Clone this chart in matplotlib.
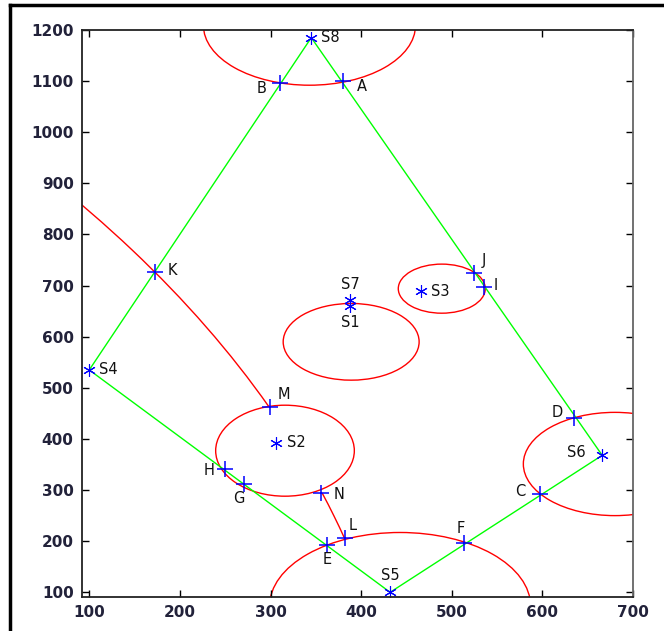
import numpy as np
import matplotlib
matplotlib.use('Agg')
import matplotlib.pyplot as plt
from matplotlib.patches import Circle, Ellipse, Arc
from matplotlib.lines import Line2D

# anchor (S) nodes, green hull goes S8 -> S6 -> S5 -> S4 -> S8
s_names = ['S1', 'S2', 'S3', 'S4', 'S5', 'S6', 'S7', 'S8']
s_x = [388, 306, 466, 100, 432, 666, 388, 345]
s_y = [661, 393, 689, 535, 100, 368, 672, 1185]
hull_order = ['S8', 'S6', 'S5', 'S4', 'S8']

# intersection points
p_names = ['A', 'B', 'C', 'D', 'E', 'F', 'G', 'H', 'I', 'J', 'K', 'L', 'M', 'N']
p_x = [380, 311, 597, 635, 362, 514, 271, 250, 536, 525, 173, 382, 299, 356]
p_y = [1100, 1096, 292, 441, 193, 196, 312, 341, 697, 724, 726, 206, 462, 294]

# range circles: centre x, centre y, radius
circ_cx = [343, 389, 489, 680, 443]
circ_cy = [1209, 590, 694, 351, 73]
circ_r = [117, 75, 48, 101, 144]
# the one around S2 is an ellipse
ell_c = (316, 377)
ell_w, ell_h = 153, 178
# big arc through K, M and N, L
big_c = (-1684, -322)
big_r = 2132
big_arcs = [(21.6, 40.0), (14.3, 16.8)]

# label offsets in points (dx, dy, ha, va)
lab_off = {
    'S1': (0, -7, 'center', 'top'), 'S2': (8, 0, 'left', 'center'),
    'S3': (7, 0, 'left', 'center'), 'S4': (7, 0, 'left', 'center'),
    'S5': (0, 7, 'center', 'bottom'), 'S6': (-12, 2, 'right', 'center'),
    'S7': (0, 6, 'center', 'bottom'), 'S8': (7, 0, 'left', 'center'),
    'A': (10, -4, 'left', 'center'), 'B': (-10, -4, 'right', 'center'),
    'C': (-10, 2, 'right', 'center'), 'D': (-8, 4, 'right', 'center'),
    'E': (0, -5, 'center', 'top'), 'F': (-3, 5, 'center', 'bottom'),
    'G': (-4, -5, 'center', 'top'), 'H': (-8, -1, 'right', 'center'),
    'I': (7, 1, 'left', 'center'), 'J': (5, 4, 'left', 'bottom'),
    'K': (9, 1, 'left', 'center'), 'L': (3, 4, 'left', 'bottom'),
    'M': (6, 4, 'left', 'bottom'), 'N': (9, -1, 'left', 'center'),
}

fig = plt.figure(figsize=(6.64, 6.31), dpi=100)
ax = fig.add_axes([82/664, 1-597/631, (633-82)/664, (597-30)/631])

for cx, cy, r in zip(circ_cx, circ_cy, circ_r):
    ax.add_patch(Circle((cx, cy), r, fill=False, color='r', lw=1))
ax.add_patch(Ellipse(ell_c, ell_w, ell_h, fill=False, color='r', lw=1))
for t1, t2 in big_arcs:
    ax.add_patch(Arc(big_c, 2*big_r, 2*big_r, theta1=t1, theta2=t2, color='r', lw=1))

sx = dict(zip(s_names, s_x))
sy = dict(zip(s_names, s_y))
ax.plot([sx[n] for n in hull_order], [sy[n] for n in hull_order], color=(0, 1, 0), lw=1)

ax.plot(p_x, p_y, ls='none', marker='+', color='b', ms=11, mew=1.1)
ax.plot(s_x, s_y, ls='none', marker=(6, 2, 0), color='b', ms=9, mew=0.8)

for n, x, y in list(zip(s_names, s_x, s_y)) + list(zip(p_names, p_x, p_y)):
    dx, dy, ha, va = lab_off[n]
    ax.annotate(n, xy=(x, y), xytext=(dx, dy), textcoords='offset points',
                ha=ha, va=va, fontsize=10.5, color='#111111')

ax.set_xlim(92, 700)
ax.set_ylim(90.8, 1200)
ax.set_xticks(np.arange(100, 701, 100))
ax.set_yticks(np.arange(100, 1201, 100))
ax.tick_params(direction='in', length=5, top=True, right=True, width=1,
               labelsize=11, labelcolor='#22223a', pad=6)
for lab in ax.get_xticklabels() + ax.get_yticklabels():
    lab.set_fontweight('bold')
for s in ['left', 'bottom', 'top']:
    ax.spines[s].set_color('#222222')
    ax.spines[s].set_linewidth(1.3)
ax.spines['right'].set_color('#666666')
ax.spines['right'].set_linewidth(1.3)

# outer frame
fig.add_artist(Line2D([10/664, 10/664], [0, 1-5/631], transform=fig.transFigure, color='k', lw=2.5))
fig.add_artist(Line2D([10/664, 1], [1-5/631, 1-5/631], transform=fig.transFigure, color='k', lw=2.5))

fig.savefig('out.png', dpi=100)
